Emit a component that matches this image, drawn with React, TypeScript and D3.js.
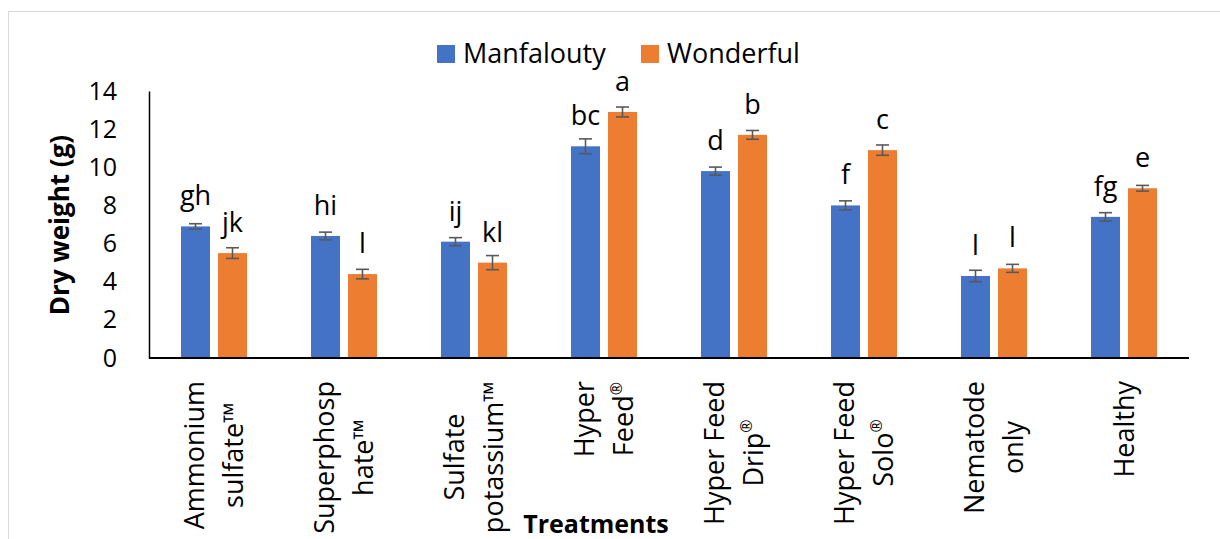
import { useEffect, useRef } from 'react';
import * as d3 from 'd3';

const categories = [
  ['Ammonium', 'sulfate™'],
  ['Superphosp', 'hate™'],
  ['Sulfate', 'potassium™'],
  ['Hyper', 'Feed®'],
  ['Hyper Feed', 'Drip®'],
  ['Hyper Feed', 'Solo®'],
  ['Nematode', 'only'],
  ['Healthy'],
];
const seriesNames = ['Manfalouty', 'Wonderful'];
const manfalouty = [6.9, 6.4, 6.1, 11.1, 9.8, 8.0, 4.3, 7.4];
const manfaloutyErr = [0.14, 0.2, 0.21, 0.39, 0.21, 0.24, 0.3, 0.22];
const manfaloutyLetters = ['gh', 'hi', 'ij', 'bc', 'd', 'f', 'l', 'fg'];
const wonderful = [5.5, 4.4, 5.0, 12.9, 11.7, 10.9, 4.7, 8.9];
const wonderfulErr = [0.28, 0.25, 0.37, 0.26, 0.23, 0.27, 0.21, 0.15];
const wonderfulLetters = ['jk', 'l', 'kl', 'a', 'b', 'c', 'l', 'e'];
const yTicks = [0, 2, 4, 6, 8, 10, 12, 14];

const COLORS = ['#4472C4', '#ED7D31'];
const FONT = '"Open Sans", "Noto Sans", sans-serif';
const W = 1220;
const H = 539;

export default function App() {
  const ref = useRef<SVGSVGElement>(null);

  useEffect(() => {
    document.body.style.margin = '0';
    if (!ref.current) return;
    const svg = d3.select(ref.current);
    svg.selectAll('*').remove();

    const keys = categories.map((c) => c.join(' '));
    const x = d3.scaleBand().domain(keys).range([149, 1189]).padding(0);
    const xs = d3.scaleBand().domain(seriesNames).range([0, x.bandwidth()])
      .paddingInner(0.216).paddingOuter(0.865);
    const y = d3.scaleLinear().domain([0, 14]).range([358, 91]);

    // chart frame
    svg.append('rect')
      .attr('x', 8.5).attr('y', 11.5).attr('width', W + 20).attr('height', H + 20)
      .attr('fill', 'white').attr('stroke', '#d9d9d9').attr('stroke-width', 1);

    // legend
    const legend = svg.append('g').attr('font-family', FONT).attr('font-size', 27);
    const legendX = [437, 641];
    seriesNames.forEach((name, i) => {
      legend.append('rect').attr('x', legendX[i]).attr('y', 45).attr('width', 18).attr('height', 18)
        .attr('fill', COLORS[i]);
      legend.append('text').attr('x', legendX[i] + 26).attr('y', 63).attr('fill', '#000').text(name);
    });

    // y axis
    const yAxis = svg.append('g').attr('transform', 'translate(149,0)')
      .call(d3.axisLeft(y).tickValues(yTicks).tickSize(0).tickPadding(32));
    yAxis.select('.domain').attr('stroke', '#000').attr('stroke-width', 1.5);
    yAxis.selectAll('text').attr('font-family', FONT).attr('font-size', 25).attr('fill', '#000');

    svg.append('text')
      .attr('transform', 'translate(69,225) rotate(-90)')
      .attr('text-anchor', 'middle').attr('font-family', FONT).attr('font-size', 26)
      .attr('font-weight', 700).attr('fill', '#000').text('Dry weight (g)');

    const series = [
      { values: manfalouty, err: manfaloutyErr, letters: manfaloutyLetters },
      { values: wonderful, err: wonderfulErr, letters: wonderfulLetters },
    ];

    series.forEach((s, si) => {
      const g = svg.append('g');
      const cx = (i: number) => (x(keys[i]) || 0) + (xs(seriesNames[si]) || 0) + xs.bandwidth() / 2;
      g.selectAll('rect').data(s.values).join('rect')
        .attr('x', (_d, i) => (x(keys[i]) || 0) + (xs(seriesNames[si]) || 0))
        .attr('y', (d) => y(d))
        .attr('width', xs.bandwidth())
        .attr('height', (d) => y(0) - y(d))
        .attr('fill', COLORS[si]);

      // error bars
      const eb = g.append('g').attr('stroke', '#595959').attr('stroke-width', 1.6);
      s.values.forEach((v, i) => {
        const e = s.err[i];
        eb.append('line').attr('x1', cx(i)).attr('x2', cx(i)).attr('y1', y(v + e)).attr('y2', y(v - e));
        eb.append('line').attr('x1', cx(i) - 6.5).attr('x2', cx(i) + 6.5).attr('y1', y(v + e)).attr('y2', y(v + e));
        eb.append('line').attr('x1', cx(i) - 6.5).attr('x2', cx(i) + 6.5).attr('y1', y(v - e)).attr('y2', y(v - e));
      });

      // letters
      g.selectAll('text.letter').data(s.letters).join('text')
        .attr('class', 'letter')
        .attr('x', (_d, i) => cx(i))
        .attr('y', (_d, i) => y(s.values[i]) - 21)
        .attr('text-anchor', 'middle').attr('font-family', FONT).attr('font-size', 27).attr('fill', '#000')
        .text((d) => d);
    });

    // x axis line
    svg.append('line').attr('x1', 149).attr('x2', 1189).attr('y1', y(0)).attr('y2', y(0))
      .attr('stroke', '#000').attr('stroke-width', 2);

    // category labels, rotated, top aligned at 381, lines centered
    const pitch = 39;
    categories.forEach((lines, ci) => {
      const cx = (x(keys[ci]) || 0) + x.bandwidth() / 2;
      const texts = lines.map((line, k) => {
        const ly = (k - (lines.length - 1) / 2) * pitch + 9.5;
        const t = svg.append('text')
          .attr('font-family', FONT).attr('font-size', 27).attr('fill', '#000')
          .attr('text-anchor', 'middle');
        const m = line.match(/^(.*?)(®?)$/);
        t.append('tspan').text(m ? m[1] : line);
        if (m && m[2]) t.append('tspan').attr('font-size', 16).attr('dy', -11).text('®');
        return { t, ly };
      });
      const maxLen = d3.max(texts, (d) => (d.t.node() as SVGTextElement).getComputedTextLength()) || 0;
      texts.forEach(({ t, ly }) => {
        t.attr('transform', `translate(${cx},0) rotate(-90)`)
          .attr('x', -(381 + maxLen / 2)).attr('y', ly);
      });
    });

    svg.append('text')
      .attr('x', 596).attr('y', 533).attr('text-anchor', 'middle')
      .attr('font-family', FONT).attr('font-size', 25).attr('font-weight', 700).attr('fill', '#000')
      .text('Treatments');
  }, []);

  return <svg ref={ref} width={W} height={H} style={{ display: 'block', background: 'white' }} />;
}
